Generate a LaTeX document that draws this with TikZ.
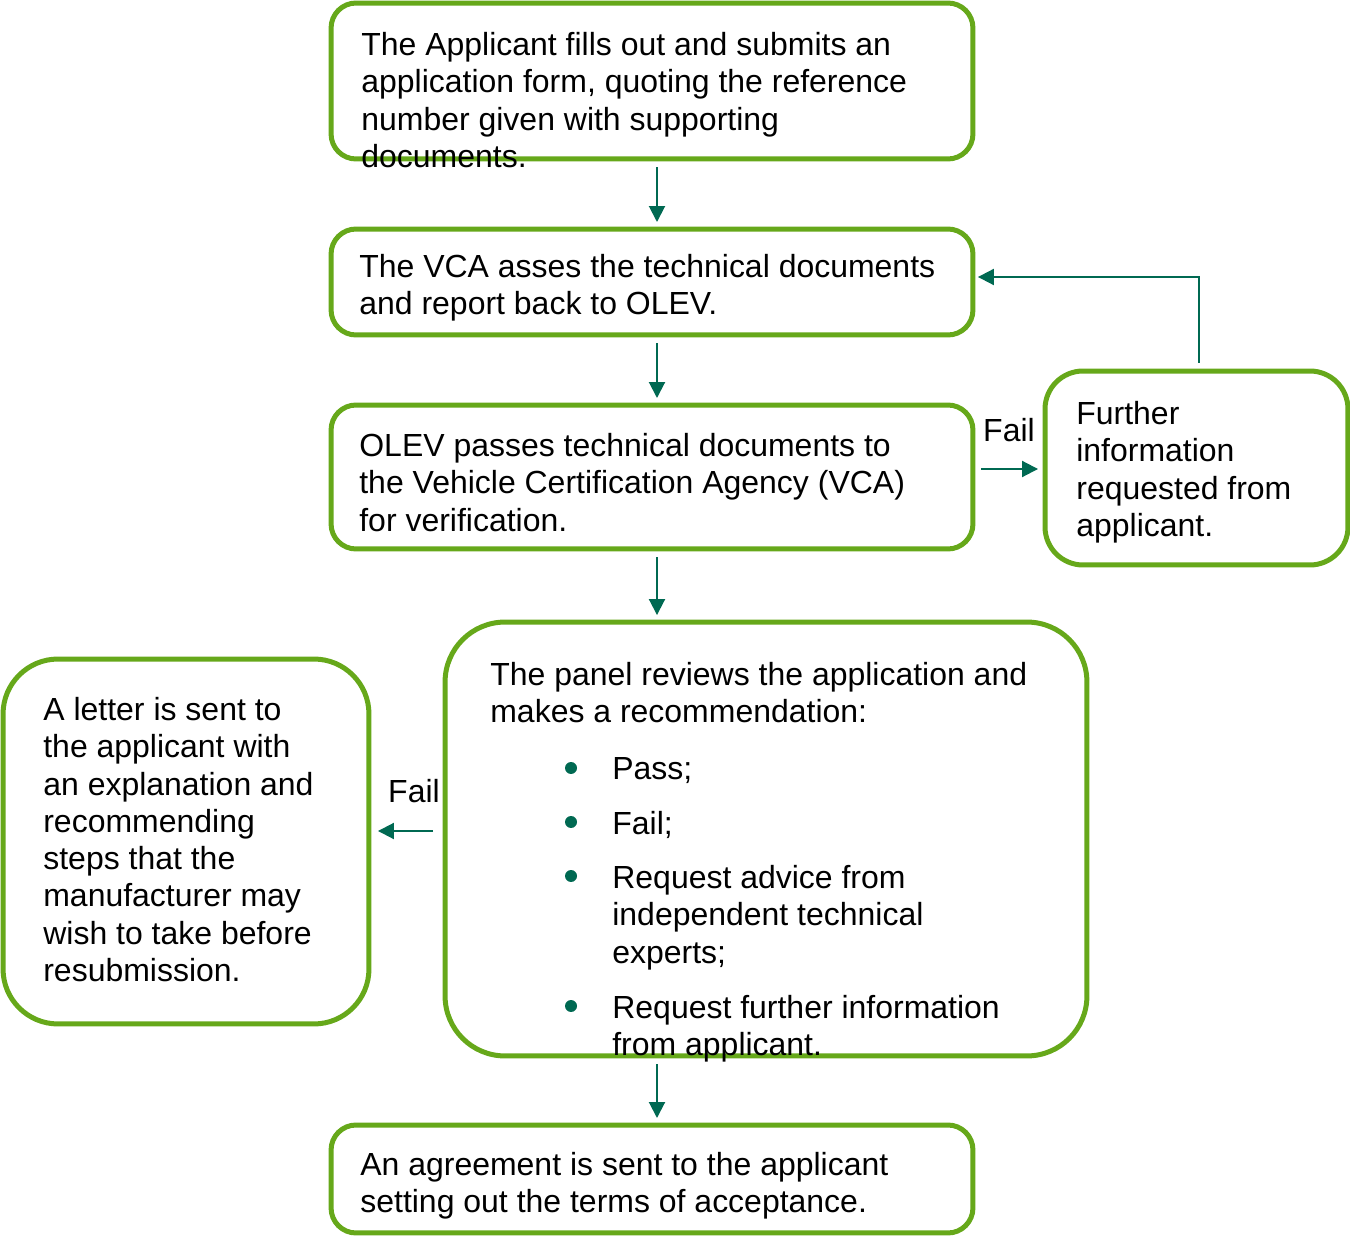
\documentclass[tikz,border=0pt]{standalone}
\usepackage{fontspec}
\setmainfont{Liberation Sans}
\usepackage{xcolor}
\usetikzlibrary{arrows.meta,positioning,calc}

\definecolor{boxgreen}{RGB}{102,168,26}
\definecolor{arrowgreen}{RGB}{0,105,82}

\begin{document}
\begin{tikzpicture}[
  x=0.02cm, y=-0.02cm,
  box/.style={draw=boxgreen, line width=1mm, rounded corners=5mm, inner sep=0pt},
  txt/.style={font=\fontsize{18.2}{21.2}\selectfont, align=left, inner sep=0pt, anchor=north west},
  lbl/.style={font=\fontsize{18.2}{21.2}\selectfont, inner sep=0pt},
  arrow/.style={-{Triangle[length=3.2mm, width=3.2mm]}, draw=arrowgreen, line width=0.4mm,
    shorten <=1.2mm, shorten >=0.9mm},
  dot/.style={circle, fill=arrowgreen, inner sep=0pt, minimum size=2.4mm}
]
\useasboundingbox (0,0) rectangle (1350,1236);

% boxes
\node[box, minimum width=12.84cm, minimum height=3.12cm] (submit) at (652,81) {};
\node[box, minimum width=12.84cm, minimum height=2.12cm] (assess) at (652,282) {};
\node[box, minimum width=12.84cm, minimum height=2.88cm] (verify) at (652,477) {};
\node[box, rounded corners=12mm, minimum width=12.84cm, minimum height=8.68cm] (panel) at (766,839) {};
\node[box, minimum width=12.84cm, minimum height=2.16cm] (agree) at (652,1179) {};
\node[box, rounded corners=7.6mm, minimum width=6.06cm, minimum height=3.88cm] (further) at (1196.5,468) {};
\node[box, rounded corners=11mm, minimum width=7.32cm, minimum height=7.3cm] (letter) at (186,841.5) {};

% texts
\node[txt] (submittxt) at (361,32) {The Applicant fills out and submits an\\application form, quoting the reference\\number given with supporting\\documents.};
\node[txt] (assesstxt) at (359,254) {The VCA asses the technical documents\\and report back to OLEV.};
\node[txt] (verifytxt) at (359,433) {OLEV passes technical documents to\\the Vehicle Certification Agency (VCA)\\for verification.};
\node[txt] (paneltxt) at (490,662) {The panel reviews the application and\\makes a recommendation:};
\node[txt] (agreetxt) at (360,1152) {An agreement is sent to the applicant\\setting out the terms of acceptance.};
\node[txt] (furthertxt) at (1076,401) {Further\\information\\requested from\\applicant.};
\node[txt] (lettertxt) at (43,697) {A letter is sent to\\the applicant with\\an explanation and\\recommending\\steps that the\\manufacturer may\\wish to take before\\resubmission.};

% options listed in the panel
\foreach \opt/\yb [count=\i] in {{Pass;}/780, {Fail;}/834,
    {Request advice from\\independent technical\\experts;}/888,
    {Request further information\\from applicant.}/1018} {
  \node[dot] (dot\i) at (571,\yb-12) {};
  \node[txt] (opt\i) at (612,\yb-23) {\opt};
}

% connectors
\draw[arrow] ([xshift=1mm]submit.south) -- ([xshift=1mm]assess.north);
\draw[arrow] ([xshift=1mm]assess.south) -- ([xshift=1mm]verify.north);
\draw[arrow] ([xshift=1mm]verify.south) -- ([xshift=1mm]verify.south |- panel.north);
\draw[arrow] ([xshift=1mm]agree.north |- panel.south) -- ([xshift=1mm]agree.north);
\draw[arrow] ([yshift=1.6mm]verify.east) -- ([yshift=1.6mm]verify.east -| further.west);
\draw[arrow, shorten >=0.5mm] ([xshift=0.5mm]further.north) |- ([yshift=1mm]assess.east);
\draw[arrow, shorten <=1.9mm, shorten >=1.3mm] ([yshift=1.6mm]panel.west) -- ([yshift=1.6mm]panel.west -| letter.east);

\node[lbl] (failright) at (1009,430) {Fail};
\node[lbl] (failleft) at (414,791) {Fail};
\end{tikzpicture}
\end{document}
